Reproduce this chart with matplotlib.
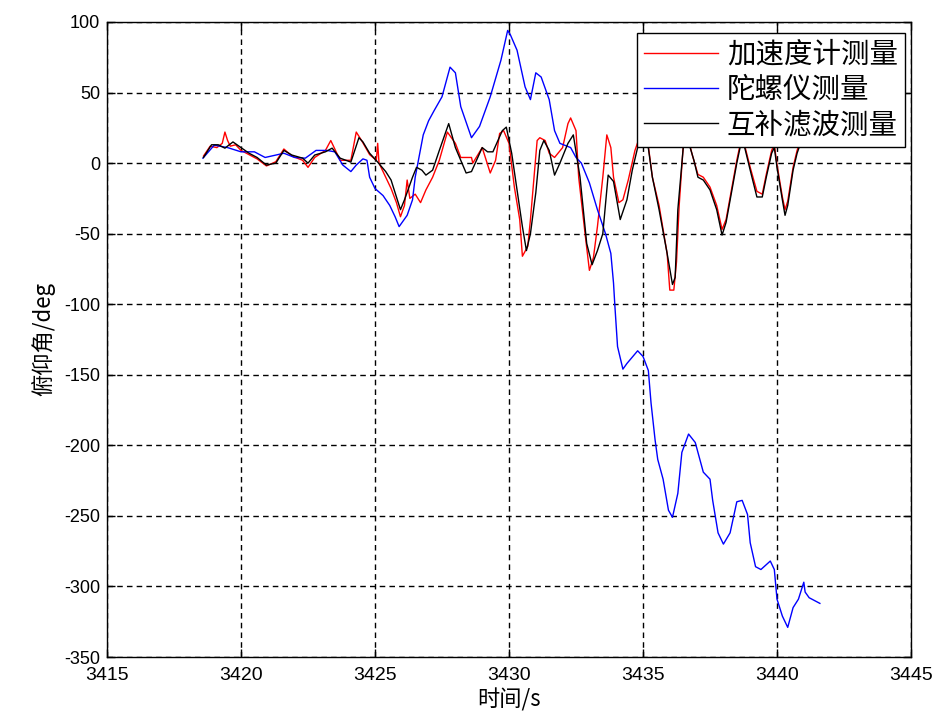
import matplotlib
matplotlib.use("Agg")
import matplotlib.pyplot as plt

plt.rcParams['font.family'] = ['Noto Sans CJK SC', 'DejaVu Sans']
plt.rcParams['axes.unicode_minus'] = False

# accelerometer (red)
t_acc = [3418.6, 3418.85, 3419.1, 3419.3, 3419.4, 3419.5, 3419.6, 3419.8, 3420.0, 3420.3,
         3420.6, 3420.95, 3421.3, 3421.6, 3421.9, 3422.3, 3422.5, 3422.75, 3423.15, 3423.35,
         3423.45, 3423.7, 3424.1, 3424.3, 3424.5, 3424.8, 3425.05, 3425.1, 3425.15, 3425.4,
         3425.6, 3425.8, 3425.95, 3426.1, 3426.2, 3426.3, 3426.5, 3426.7, 3426.9, 3427.15,
         3427.4, 3427.7, 3428.0, 3428.2, 3428.6, 3428.65, 3429.0, 3429.3, 3429.5, 3429.65,
         3429.8, 3430.0, 3430.2, 3430.4, 3430.5, 3430.7, 3430.8, 3431.05, 3431.15, 3431.35,
         3431.5, 3431.7, 3432.0, 3432.2, 3432.3, 3432.5, 3432.6, 3432.85, 3433.0, 3433.15,
         3433.3, 3433.5, 3433.65, 3433.8, 3433.9, 3434.1, 3434.25, 3434.45, 3434.7, 3434.9,
         3435.2, 3435.35, 3435.6, 3435.9, 3436.0, 3436.15, 3436.25, 3436.35, 3436.5, 3436.65,
         3436.85, 3437.05, 3437.25, 3437.5, 3437.75, 3437.95, 3438.1, 3438.3, 3438.5, 3438.7,
         3438.8, 3439.0, 3439.25, 3439.45, 3439.6, 3439.8, 3439.9, 3440.0, 3440.2, 3440.3,
         3440.4, 3440.6, 3440.75, 3440.95, 3441.3, 3441.6]
acc = [5, 12, 11, 14, 22, 16, 12, 13, 9, 6,
       3, -2, 1, 10, 5, 2, -3, 4, 9, 16,
       12, 2, 2, 22, 16, 6, 2, 14, 0, -10,
       -18, -28, -38, -30, -12, -25, -22, -28, -19, -10,
       2, 22, 14, 4, 4, 0, 11, -7, 2, 21,
       23, 14, -17, -40, -66, -59, -40, 16, 18, 16,
       7, 4, 11, 28, 32, 23, -10, -52, -76, -67,
       -45, -10, 20, 11, -10, -28, -26, -12, 9, 20,
       12, -10, -30, -64, -90, -90, -70, -30, 12, 20,
       5, -8, -10, -17, -30, -47, -40, -19, 2, 20,
       12, -3, -20, -22, -8, 9, 13, -1, -24, -33,
       -27, -3, 9, 20, 24, 22]

# gyroscope (blue)
t_gyro = [3418.58, 3419.0, 3419.5, 3420.0, 3420.5, 3420.9, 3421.3, 3421.6, 3422.0, 3422.4,
          3422.8, 3423.2, 3423.5, 3423.8, 3424.1, 3424.3, 3424.55, 3424.7, 3424.8, 3425.0,
          3425.3, 3425.55, 3425.75, 3425.9, 3426.2, 3426.4, 3426.5, 3426.6, 3426.8, 3427.0,
          3427.2, 3427.5, 3427.8, 3428.0, 3428.2, 3428.6, 3428.9, 3429.3, 3429.7, 3429.95,
          3430.05, 3430.3, 3430.6, 3430.8, 3431.0, 3431.2, 3431.5, 3431.7, 3431.9, 3432.3,
          3432.5, 3432.7, 3433.0, 3433.3, 3433.6, 3433.8, 3433.9, 3433.95, 3434.05, 3434.25,
          3434.4, 3434.8, 3435.0, 3435.2, 3435.3, 3435.45, 3435.55, 3435.75, 3435.95, 3436.1,
          3436.3, 3436.45, 3436.7, 3436.95, 3437.25, 3437.5, 3437.6, 3437.8, 3438.0, 3438.25,
          3438.5, 3438.7, 3438.9, 3439.0, 3439.2, 3439.4, 3439.75, 3439.9, 3440.0, 3440.2,
          3440.4, 3440.6, 3440.8, 3441.0, 3441.05, 3441.2, 3441.6]
gyro = [3.5, 12.7, 11, 8, 8, 4, 5.7, 7, 4, 3.5,
        9, 9, 8, -1.4, -6, -1.4, 3, 2, -10, -18,
        -23, -30, -38, -45, -37, -26, -10, 0, 20, 30,
        37, 47, 68, 64, 40, 18, 26, 47, 73, 94,
        91, 80, 54, 45, 64, 61, 45, 23, 14, 11,
        4, 0, -14, -33, -50, -64, -85, -101, -130, -146,
        -142, -133, -137, -147, -170, -196, -210, -224, -246, -251,
        -234, -205, -192, -198, -219, -224, -239, -262, -270, -262,
        -240, -239, -249, -269, -286, -288, -282, -288, -309, -321,
        -329, -315, -309, -297, -304, -308, -312]

# complementary filter (black)
t_comp = [3418.6, 3418.9, 3419.15, 3419.4, 3419.7, 3420.0, 3420.3, 3420.6, 3420.95, 3421.3,
          3421.6, 3421.9, 3422.3, 3422.5, 3422.75, 3423.15, 3423.4, 3423.7, 3424.1, 3424.4,
          3424.55, 3424.8, 3425.1, 3425.4, 3425.6, 3425.8, 3425.95, 3426.1, 3426.4, 3426.55,
          3426.75, 3426.9, 3427.15, 3427.4, 3427.75, 3428.0, 3428.4, 3428.6, 3429.0, 3429.2,
          3429.4, 3429.75, 3429.9, 3430.1, 3430.3, 3430.5, 3430.65, 3430.8, 3431.0, 3431.15,
          3431.3, 3431.5, 3431.7, 3431.9, 3432.2, 3432.4, 3432.65, 3432.9, 3433.1, 3433.3,
          3433.5, 3433.7, 3433.9, 3434.15, 3434.4, 3434.6, 3434.8, 3435.0, 3435.2, 3435.35,
          3435.6, 3435.9, 3436.1, 3436.2, 3436.3, 3436.5, 3436.65, 3436.9, 3437.05, 3437.25,
          3437.5, 3437.75, 3437.95, 3438.1, 3438.3, 3438.5, 3438.7, 3438.8, 3439.0, 3439.25,
          3439.45, 3439.6, 3439.8, 3439.9, 3440.0, 3440.2, 3440.3, 3440.4, 3440.6, 3440.75,
          3440.95, 3441.3, 3441.6]
comp = [4, 13, 13, 10.6, 15, 11, 7, 4, -1.4, 0,
        9, 5.7, 3.5, 0, 5.7, 8, 10.6, 3.5, 0.7, 18,
        15, 7, 0.7, -6, -12, -24, -33, -26, -10, -3,
        -5, -8.5, -5, 9, 28, 11, -7, -6, 11, 8,
        8, 23, 25.5, 7, -19, -45, -62, -50, -21, 9,
        16, 9, -8.5, 0, 14, 20, -10, -57, -72, -62,
        -50, -8.5, -13, -40, -26, -5, 11, 20, 10.6, -10,
        -33, -64, -86, -81, -33, 10.6, 18, 2, -10, -12,
        -19, -33, -51, -42, -21, 0, 18, 10.6, -5, -24,
        -24, -10, 7, 11, -3, -26, -37, -30, -5, 7,
        18, 22, 20]

labels = ['加速度计测量', '陀螺仪测量', '互补滤波测量']

fig = plt.figure(figsize=(9.37, 7.19), dpi=100)
ax = fig.add_axes([107 / 937, 62 / 719, 804 / 937, 635 / 719])

ax.plot(t_acc, acc, color='#ff0000', lw=1.0, label=labels[0])
ax.plot(t_gyro, gyro, color='#0000ff', lw=1.0, label=labels[1])
ax.plot(t_comp, comp, color='k', lw=1.0, label=labels[2])

ax.set_xlim(3415, 3445)
ax.set_ylim(-350, 100)
ax.set_xticks(range(3415, 3446, 5))
ax.set_yticks(range(-350, 101, 50))
ax.grid(True, color='k', linestyle=(0, (4, 3)), linewidth=1.0)

ax.tick_params(direction='in', length=6, width=1, top=True, right=True)
ax.tick_params(axis='x', pad=7)
ax.tick_params(axis='y', pad=5)
for lab in ax.get_yticklabels():
    lab.set_family(['Liberation Sans', 'DejaVu Sans'])
    lab.set_fontsize(13)
for lab in ax.get_xticklabels():
    lab.set_family(['Liberation Sans', 'DejaVu Sans'])
    lab.set_fontsize(14)
for sp in ax.spines.values():
    sp.set_linewidth(1.0)

ax.set_xlabel('时间/s', fontsize=16, labelpad=3)
ax.set_ylabel('俯仰角/deg', fontsize=16, labelpad=6)

leg = ax.legend(loc='upper right', bbox_to_anchor=(0.9925, 0.983), borderaxespad=0,
                fontsize=20.5, fancybox=False, framealpha=1, edgecolor='k',
                handlelength=2.6, handletextpad=0.3, labelspacing=0.18, borderpad=0.25)
leg.get_frame().set_linewidth(1.0)

fig.savefig('out.png', dpi=100)
